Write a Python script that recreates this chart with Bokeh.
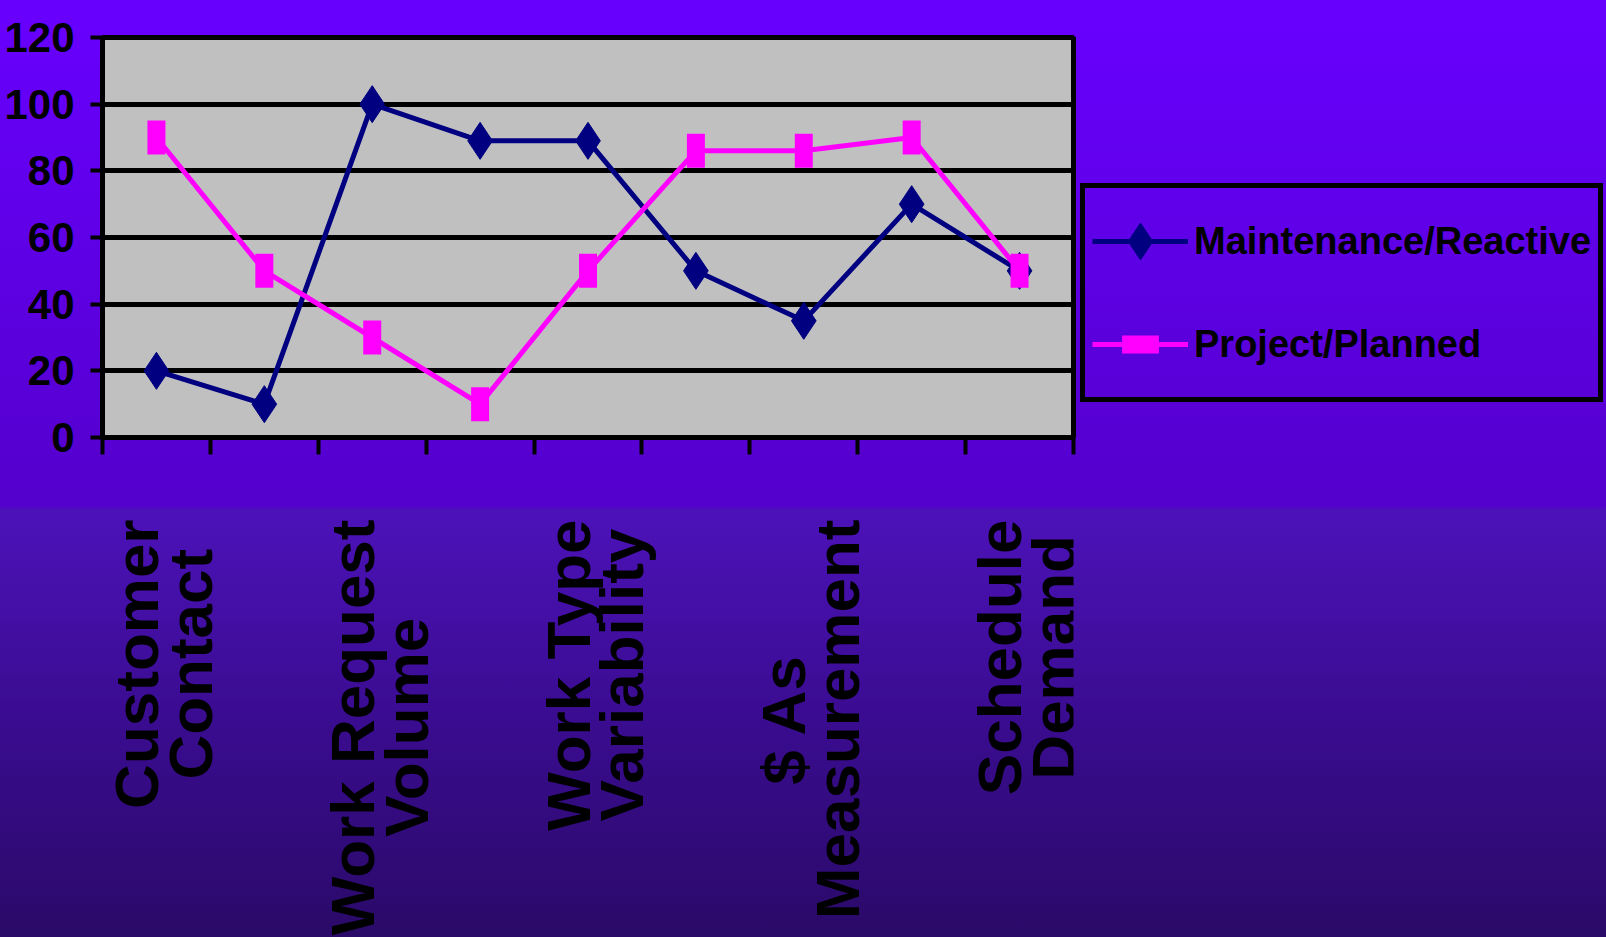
from math import pi
from bokeh.plotting import figure
from bokeh.layouts import column
from bokeh.core.properties import value
from bokeh.models import Range1d, FixedTicker, Legend, LegendItem, ColumnDataSource
from bokeh.embed import file_html
from bokeh.resources import INLINE

# ---- data ----
categories = ["Customer\nContact", "", "Work Request\nVolume", "", "Work Type\nVariability",
              "", "$ As\nMeasurement", "", "Schedule\nDemand"]
maintenance = [20, 10, 100, 89, 89, 50, 35, 70, 50]
project = [90, 50, 30, 10, 50, 86, 86, 90, 50]
y_ticks = [0, 20, 40, 60, 80, 100, 120]
series_names = ["Maintenance/Reactive", "Project/Planned"]

n = len(categories)
xpos = [i + 0.5 for i in range(n)]
src = ColumnDataSource(dict(x=xpos, m=maintenance, p=project))

SANS = "Liberation Sans"
LEFT, RIGHT, FRAME_W = 102, 533, 971

p = figure(frame_width=FRAME_W, frame_height=400,
           min_border_left=LEFT, min_border_right=RIGHT, min_border_top=37, min_border_bottom=40,
           x_range=Range1d(0, n), y_range=Range1d(0, 120),
           output_backend="svg", toolbar_location=None)
p.border_fill_color = None
p.background_fill_color = "#C0C0C0"
p.outline_line_color = "black"
p.outline_line_width = 5

# grid
p.xgrid.visible = False
p.ygrid.ticker = FixedTicker(ticks=y_ticks)
p.ygrid.grid_line_color = "black"
p.ygrid.grid_line_width = 5

# y axis
ya = p.yaxis[0]
ya.ticker = FixedTicker(ticks=y_ticks)
ya.axis_line_color = "black"
ya.axis_line_width = 5
ya.major_tick_line_color = "black"
ya.major_tick_line_width = 4
ya.major_tick_out = 12
ya.major_tick_in = 0
ya.minor_tick_line_color = None
ya.major_label_standoff = 16
ya.major_label_text_font = SANS
ya.major_label_text_font_style = "bold"
ya.major_label_text_font_size = "42px"
ya.major_label_text_color = "black"

# x axis: category boundary ticks (category names are drawn in the panel below)
xa = p.xaxis[0]
xa.ticker = FixedTicker(ticks=list(range(n + 1)))
xa.major_label_overrides = {i: "" for i in range(n + 1)}
xa.major_label_text_font_size = "1px"
xa.major_label_standoff = 0
xa.axis_line_color = "black"
xa.axis_line_width = 5
xa.major_tick_line_color = "black"
xa.major_tick_line_width = 4
xa.major_tick_out = 17
xa.major_tick_in = 0
xa.minor_tick_line_color = None

# series
l1 = p.line("x", "m", source=src, line_color="#000080", line_width=5)
m1 = p.scatter("x", "m", source=src, marker="diamond", size=37,
               fill_color="#000080", line_color="#000080")
l2 = p.line("x", "p", source=src, line_color="#FF00FF", line_width=5)
m2 = p.scatter("x", "p", source=src, marker="dash", size=34, angle=pi / 2,
               line_color="#FF00FF", line_width=18, line_cap="butt")

legend = Legend(items=[LegendItem(label=series_names[0], renderers=[l1, m1]),
                       LegendItem(label=series_names[1], renderers=[l2, m2])],
                location=(7, 35), orientation="vertical")
legend.background_fill_alpha = 0
legend.border_line_color = "black"
legend.border_line_alpha = 1
legend.border_line_width = 5
legend.padding = 7
legend.spacing = 11
legend.margin = 0
legend.glyph_width = 96
legend.glyph_height = 92
legend.label_standoff = 6
legend.label_text_font = SANS
legend.label_text_font_style = "bold"
legend.label_text_font_size = "38px"
legend.label_text_color = "black"
legend.label_text_baseline = "middle"
p.add_layout(legend, "right")

# ---- category labels panel (shares the x scale of the chart) ----
H2 = 460
p2 = figure(frame_width=FRAME_W, frame_height=H2,
            min_border_left=LEFT, min_border_right=RIGHT, min_border_top=0, min_border_bottom=0,
            x_range=p.x_range, y_range=Range1d(0, H2),
            x_axis_location=None, y_axis_location=None,
            output_backend="svg", toolbar_location=None)
p2.border_fill_color = None
p2.background_fill_color = None
p2.outline_line_color = None
p2.grid.visible = False

lab_x = [x for x, lab in zip(xpos, categories) if lab]
lab_t = [lab for lab in categories if lab]
top_y = H2 - 42
lsrc = ColumnDataSource(dict(x=lab_x, y=[top_y] * len(lab_x), t=lab_t))
p2.text("x", "y", text="t", source=lsrc, angle=pi / 2, x_offset=7,
        text_align="center", anchor="center_right",
        text_font=value(SANS), text_font_style="bold", text_font_size=value("62px"),
        text_color="black", text_line_height=0.78)

layout = column(p, p2, spacing=0,
                styles={"background": "linear-gradient(to bottom, #6800ff 0px, #5400cc 506px, #4c12b9 510px, #3a0c90 720px, #2a0a68 937px)"})

open("out.html", "w").write(file_html(layout, INLINE))
